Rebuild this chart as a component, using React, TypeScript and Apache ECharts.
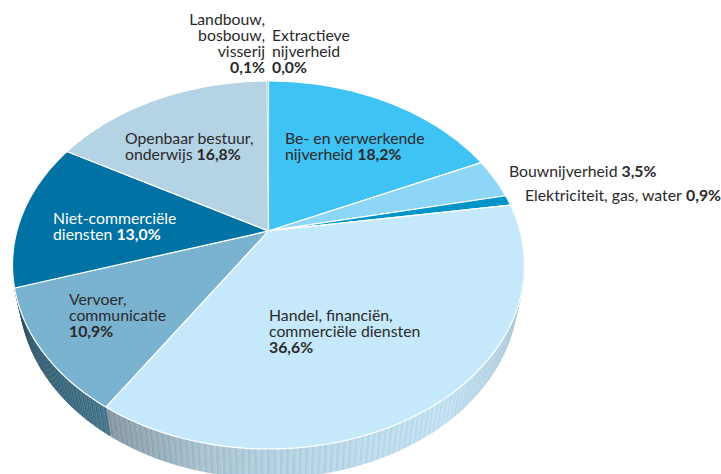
import React, { useEffect, useRef } from "react";
import * as echarts from "echarts";

const categories = [
  "Be- en verwerkende\nnijverheid ",
  "Bouwnijverheid ",
  "Elektriciteit, gas, water ",
  "Handel, financiën,\ncommerciële diensten\n",
  "Vervoer,\ncommunicatie\n",
  "Niet-commerciële\ndiensten ",
  "Openbaar bestuur,\nonderwijs ",
  "Landbouw,\nbosbouw,\nvisserij\n",
  "Extractieve\nnijverheid\n",
];
const values = [18.2, 3.5, 0.9, 36.6, 10.9, 13.0, 16.8, 0.1, 0.0];
const valueLabels = ["18,2%", "3,5%", "0,9%", "36,6%", "10,9%", "13,0%", "16,8%", "0,1%", "0,0%"];
const colors = ["#3fc3f5", "#8ed6f7", "#0095c8", "#c5e9fa", "#79b3d0", "#0072a3", "#b4d3e4", "#b4d3e4", "#3fc3f5"];
const labelColors = ["#2a2a2a", "#2a2a2a", "#2a2a2a", "#2a2a2a", "#2a2a2a", "#ffffff", "#2a2a2a", "#2a2a2a", "#2a2a2a"];

// label anchor (x, y of first line centre, alignment)
const labelPlaces: [number, number, string][] = [
  [285, 138, "left"],
  [509, 171, "left"],
  [525, 195, "left"],
  [269, 315, "left"],
  [69, 299, "left"],
  [53, 218, "left"],
  [125, 138, "left"],
  [265, 19, "right"],
  [272, 35, "left"],
];

const FONT = "Lato, sans-serif";
const FS = 15.8;
const LH = 16;

// perspective disc: ellipse + off-centre apex
const CX = 268.5, CY = 265, RX = 256, RY = 184, K = -0.185;
const RX2 = 249, DEPTH = 29;

function project(f: number) {
  const th = 2 * Math.PI * f;
  const x = Math.sin(th), y = -Math.cos(th);
  const d = 1 + K * y;
  return [(x * Math.sqrt(1 - K * K)) / d, (y + K) / d];
}
const top = (p: number[]) => [CX + RX * p[0], CY + RY * p[1]];
const bottom = (p: number[]) => [CX + RX2 * p[0], CY + DEPTH + RY * p[1]];

function hex(c: string) {
  return [1, 3, 5].map((i) => parseInt(c.slice(i, i + 2), 16));
}
function shade(stops: [number, string][], t: number, alt: number) {
  let a = stops[0], b = stops[stops.length - 1];
  for (let i = 0; i < stops.length - 1; i++) {
    if (t >= stops[i][0] && t <= stops[i + 1][0]) { a = stops[i]; b = stops[i + 1]; break; }
  }
  const u = Math.max(0, Math.min(1, (t - a[0]) / (b[0] - a[0] || 1)));
  const ca = hex(a[1]), cb = hex(b[1]);
  const c = ca.map((v, i) => Math.round(v + (cb[i] - v) * u + alt));
  return `rgb(${c.map((v) => Math.max(0, Math.min(255, v))).join(",")})`;
}

const sideHandel: [number, string][] = [
  [95, "#a9c6d6"], [120, "#b6d4e5"], [135, "#c0dff0"], [155, "#bbdaec"],
  [180, "#b1cede"], [195, "#a6c0cf"], [205, "#97aebb"], [220, "#8494a0"],
];
const sideVervoer: [number, string][] = [
  [219, "#44748a"], [240, "#325e72"], [265, "#2a4f60"],
];
const sideStops: Record<number, [number, string][]> = { 3: sideHandel, 4: sideVervoer };

const total = values.reduce((a, b) => a + b, 0);
const fractions: number[] = [];
values.reduce((acc, v) => { fractions.push(acc / total); return acc + v; }, 0);

function renderItem(_params: any, api: any) {
  const i = _params.dataIndex;
  const v = api.value(1);
  const f0 = fractions[i];
  const f1 = f0 + v / total;
  const children: any[] = [];

  const stops = sideStops[i];
  if (stops) {
    const step = 0.6 / 360;
    let n = 0;
    for (let f = f0; f < f1; f += step, n++) {
      const g = Math.min(f + step, f1);
      const p0 = project(f), p1 = project(g);
      const t = (Math.atan2(p0[0], -p0[1]) * 180) / Math.PI;
      const tt = t < 0 ? t + 360 : t;
      if (tt < 90 || tt > 268) continue;
      const col = shade(stops, tt, n % 2 ? 5 : -5);
      children.push({
        type: "polygon", silent: true,
        shape: { points: [top(p0), top(p1), bottom(p1), bottom(p0)] },
        style: { fill: col, stroke: col, lineWidth: 0.4 },
      });
    }
  }

  if (v > 0) {
    const pts: number[][] = [[CX + 0, CY + RY * K]];
    const m = Math.max(2, Math.ceil((f1 - f0) * 360));
    for (let j = 0; j <= m; j++) pts.push(top(project(f0 + ((f1 - f0) * j) / m)));
    const sliver = v < 0.5;
    children.push({
      type: "polygon", silent: true,
      shape: { points: pts },
      style: sliver
        ? { fill: colors[i] }
        : { fill: colors[i], stroke: "#ffffff", lineWidth: 1.2, lineJoin: "round" },
    });
  }
  return { type: "group", children };
}

function labelElements() {
  return categories.map((c, i) => {
    const [x, y, align] = labelPlaces[i];
    const lines = c.split("\n");
    const txt = lines.map((l) => (l ? `{n|${l}}` : "")).join("\n") + `{b|${valueLabels[i]}}`;
    return {
      type: "text", x, y: y - LH / 2 - 1, silent: true,
      style: {
        text: txt, align, verticalAlign: "top",
        rich: {
          n: { fontFamily: FONT, fontSize: FS, lineHeight: LH, fill: labelColors[i], align },
          b: { fontFamily: FONT, fontSize: FS, lineHeight: LH, fontWeight: "bold", fill: labelColors[i], align },
        },
      },
    };
  });
}

export default function App() {
  const ref = useRef<HTMLDivElement>(null);
  useEffect(() => {
    document.body.style.margin = "0";
    const chart = echarts.init(ref.current!, null, { renderer: "svg" });
    chart.setOption({
      animation: false,
      backgroundColor: "#ffffff",
      graphic: labelElements().map((e) => ({ ...e, z: 100 })),
      series: [
        {
          type: "custom",
          coordinateSystem: "none",
          renderItem,
          silent: true,
          data: values.map((v, i) => ({ name: categories[i].replace(/\n/g, " ").trim(), value: [i, v] })),
        },
      ],
    });
    return () => chart.dispose();
  }, []);
  return <div ref={ref} style={{ width: 721, height: 474, overflow: "hidden" }} />;
}
